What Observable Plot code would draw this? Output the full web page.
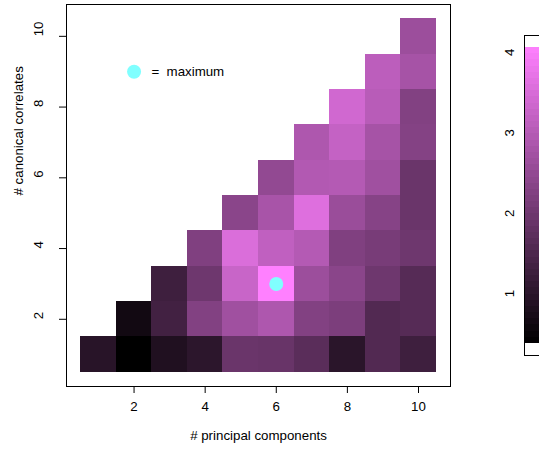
<!DOCTYPE html>
<html>
<head>
<meta charset="utf-8">
<script src="https://cdn.jsdelivr.net/npm/d3@7"></script>
<script src="https://cdn.jsdelivr.net/npm/@observablehq/plot@0.6"></script>
<style>
  html, body { margin: 0; padding: 0; background: #fff; }
  #wrap { position: relative; width: 539px; height: 458px; overflow: hidden; }
  #wrap svg { position: absolute; left: 0; top: 0; }
</style>
</head>
<body>
<div id="wrap"></div>
<script>
// values by # canonical correlates (row), each starting at # principal components = row number
const row1  = [0.96, 0.38, 0.84, 1.01, 1.91, 1.88, 1.68, 0.99, 1.56, 1.27];
const row2  = [0.64, 1.33, 2.26, 2.69, 2.89, 2.26, 2.17, 1.56, 1.62];
const row3  = [1.27, 1.97, 3.27, 4.06, 2.63, 2.37, 1.97, 1.62];
const row4  = [2.23, 3.53, 3.15, 2.98, 2.23, 2.11, 1.97];
const row5  = [2.37, 2.80, 3.58, 2.60, 2.31, 1.91];
const row6  = [2.49, 2.95, 2.98, 2.69, 1.91];
const row7  = [2.89, 3.21, 2.78, 2.28];
const row8  = [3.38, 3.03, 2.26];
const row9  = [3.09, 2.78];
const row10 = [2.63];
const rows = [row1, row2, row3, row4, row5, row6, row7, row8, row9, row10];

const xTicks = [2, 4, 6, 8, 10];
const yTicks = [2, 4, 6, 8, 10];
const barTicks = [1, 2, 3, 4];
const colorDomain = [0.38, 4.06];
const colorRange = ["#000000", "#ff80ff"];
const xLabel = "# principal components";
const yLabel = "# canonical correlates";
const legendText = "maximum";

const cells = [];
rows.forEach((vals, i) => vals.forEach((v, j) => cells.push({cc: i + 1, pc: i + 1 + j, v})));
const maxCell = d3.greatest(cells, d => d.v);

const font = "Liberation Sans, Arial, sans-serif";
const fs = 13.3;

const main = Plot.plot({
  width: 539, height: 458,
  marginLeft: 66, marginRight: 89, marginTop: 4, marginBottom: 72,
  style: {fontFamily: font, fontSize: fs + "px", background: "white"},
  x: {domain: [0.1, 10.9], axis: null},
  y: {domain: [0.1, 10.9], axis: null},
  color: {type: "linear", domain: colorDomain, range: colorRange, interpolate: "rgb", clamp: true},
  marks: [
    Plot.rect(cells, {x1: d => d.pc - 0.5, x2: d => d.pc + 0.5, y1: d => d.cc - 0.5, y2: d => d.cc + 0.5, fill: "v", inset: 0, shapeRendering: "crispEdges"}),
    Plot.dot([maxCell], {x: "pc", y: "cc", r: 7, fill: "#80ffff", stroke: null}),
    Plot.dot([{x: 2, y: 9}], {x: "x", y: "y", r: 7, fill: "#80ffff", stroke: null}),
    Plot.text([{x: 2, y: 9}], {x: "x", y: "y", text: () => "=", dx: 17.5, textAnchor: "start", fill: "#000", fontSize: fs}),
    Plot.text([{x: 2, y: 9}], {x: "x", y: "y", text: () => legendText, dx: 32.5, textAnchor: "start", fill: "#000", fontSize: fs}),
    Plot.frame({stroke: "#000"}),
    Plot.axisX({ticks: xTicks, tickSize: 7, tickFormat: () => "", stroke: "#000"}),
    Plot.axisY({ticks: yTicks, tickSize: 7, tickFormat: () => "", stroke: "#000"}),
    Plot.text(xTicks, {x: d => d, frameAnchor: "bottom", dy: 24, text: d => String(d), fill: "#000", fontSize: fs}),
    Plot.text(yTicks, {y: d => d, frameAnchor: "left", dx: -28, rotate: -90, text: d => String(d), fill: "#000", fontSize: fs}),
    Plot.text([xLabel], {frameAnchor: "bottom", dy: 53, text: d => d, fill: "#000", fontSize: fs}),
    Plot.text([yLabel], {frameAnchor: "left", dx: -48, rotate: -90, text: d => d, fill: "#000", fontSize: fs})
  ]
});

// colour bar legend
const nSteps = 48;
const stepEdges = d3.range(nSteps + 1).map(i => colorDomain[0] + (colorDomain[1] - colorDomain[0]) * i / nSteps);
const steps = stepEdges.slice(0, -1).map((lo, i) => ({lo, hi: stepEdges[i + 1], mid: (lo + stepEdges[i + 1]) / 2}));

const bar = Plot.plot({
  width: 539, height: 458,
  marginLeft: 524, marginRight: 0, marginTop: 35, marginBottom: 103,
  style: {fontFamily: font, fontSize: fs + "px", background: "transparent"},
  x: {domain: [0, 1], axis: null},
  y: {domain: [0.23, 4.21], axis: null},
  color: {type: "linear", domain: colorDomain, range: colorRange, interpolate: "rgb", clamp: true},
  marks: [
    Plot.rect(steps, {x1: 0, x2: 1.5, y1: "lo", y2: "hi", fill: "mid", inset: 0, shapeRendering: "crispEdges"}),
    Plot.ruleY([0.23, 4.21], {x1: 0, x2: 1.5, stroke: "#000"}),
    Plot.ruleX([0], {y1: 0.23, y2: 4.21, stroke: "#000"}),
    Plot.text(barTicks, {x: 0, y: d => d, dx: -15, rotate: -90, text: d => String(d), fill: "#000", fontSize: fs})
  ]
});

const wrap = document.getElementById("wrap");
wrap.appendChild(main);
wrap.appendChild(bar);
</script>
</body>
</html>
